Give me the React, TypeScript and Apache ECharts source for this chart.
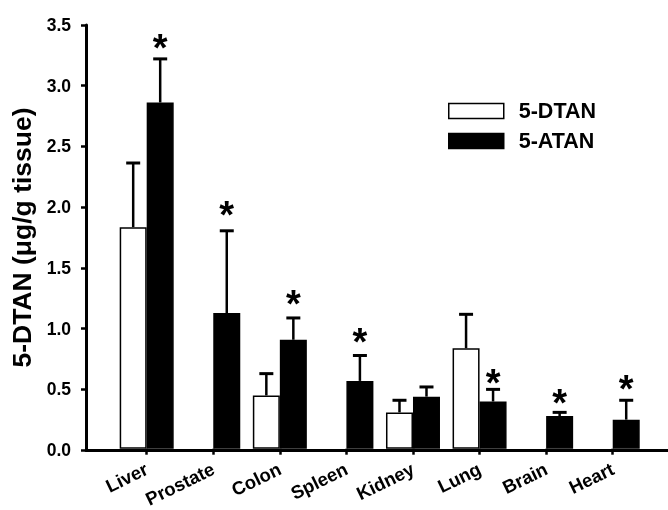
import React, { useEffect, useRef } from "react";
import * as echarts from "echarts";

const categories = ["Liver", "Prostate", "Colon", "Spleen", "Kidney", "Lung", "Brain", "Heart"];
const dtanMean: (number | null)[] = [1.83, null, 0.44, null, 0.3, 0.83, null, null];
const dtanErr: (number | null)[] = [0.53, null, 0.18, null, 0.1, 0.28, null, null];
const atanMean = [2.86, 1.12, 0.9, 0.56, 0.43, 0.39, 0.27, 0.24];
const atanErr = [0.36, 0.68, 0.18, 0.21, 0.08, 0.1, 0.03, 0.16];
const asteriskY: (number | null)[] = [3.38, 2.0, 1.26, 0.95, null, 0.61, 0.44, 0.56];
const yTicks = [0, 0.5, 1.0, 1.5, 2.0, 2.5, 3.0, 3.5];

const FONT = "Liberation Sans";
const BAR_W = 27;

export default function App() {
  const ref = useRef<HTMLDivElement>(null);
  useEffect(() => {
    document.body.style.margin = "0";
    const chart = echarts.init(ref.current!, null, { renderer: "svg" });

    const errData: number[][] = [];
    categories.forEach((_, i) => {
      if (dtanMean[i] != null) errData.push([i, dtanMean[i] as number, dtanErr[i] as number, -1]);
      errData.push([i, atanMean[i], atanErr[i], 1]);
    });
    const starData: number[][] = [];
    asteriskY.forEach((v, i) => {
      if (v != null) starData.push([i, v]);
    });

    const yMin = yTicks[0];
    const yMax = yTicks[yTicks.length - 1];

    chart.setOption({
      animation: false,
      textStyle: { fontFamily: FONT },
      grid: [
        { left: 86, top: 25, width: 582, height: 425 },
        { left: 113.4, top: 25, width: 532.6, height: 425 },
      ],
      legend: {
        orient: "vertical",
        left: 448,
        top: 100,
        padding: 0,
        itemWidth: 55,
        itemHeight: 15,
        itemGap: 8,
        textStyle: { fontSize: 21.5, fontWeight: "bold", color: "#000", fontFamily: FONT, padding: [0, 0, 0, 10] },
        data: [
          { name: "5-DTAN", icon: "rect", itemStyle: { color: "#fff", borderColor: "#000", borderWidth: 1.5 } },
          { name: "5-ATAN", icon: "rect", itemStyle: { color: "#000", borderColor: "#000", borderWidth: 1.5 } },
        ],
      },
      xAxis: [
        {
          gridIndex: 0,
          type: "value",
          min: 0,
          max: 1,
          axisLine: { show: true, lineStyle: { color: "#000", width: 3 } },
          axisTick: { show: false },
          axisLabel: { show: false },
          splitLine: { show: false },
        },
        {
          gridIndex: 1,
          type: "category",
          data: categories,
          boundaryGap: true,
          axisLine: { show: false },
          axisTick: { show: true, alignWithLabel: true, length: 6, lineStyle: { color: "#000", width: 2.5 } },
          axisLabel: {
            interval: 0,
            rotate: 26,
            margin: 19,
            color: "#000",
            fontSize: 18.5,
            fontWeight: "bold",
            fontFamily: FONT,
          },
          splitLine: { show: false },
        },
      ],
      yAxis: [
        {
          gridIndex: 0,
          type: "value",
          min: yMin,
          max: yMax,
          interval: 0.5,
          name: "5-DTAN (\u03bcg/g tissue)",
          nameLocation: "middle",
          nameGap: 50,
          nameTextStyle: { fontSize: 26.5, fontWeight: "bold", color: "#000", fontFamily: FONT },
          axisLine: { show: true, lineStyle: { color: "#000", width: 3 } },
          axisTick: { show: true, length: 5, lineStyle: { color: "#000", width: 2.5 } },
          axisLabel: {
            margin: 15,
            color: "#000",
            fontSize: 17.5,
            fontWeight: "bold",
            fontFamily: FONT,
            formatter: (v: number) => v.toFixed(1),
          },
          splitLine: { show: false },
        },
        {
          gridIndex: 1,
          type: "value",
          min: yMin,
          max: yMax,
          show: false,
          splitLine: { show: false },
        },
      ],
      series: [
        {
          name: "5-DTAN",
          type: "bar",
          xAxisIndex: 1,
          yAxisIndex: 1,
          data: dtanMean.map((v) => (v == null ? "-" : v)),
          barWidth: BAR_W,
          barGap: "0%",
          itemStyle: { color: "#fff", borderColor: "#000", borderWidth: 1.5 },
          z: 2,
        },
        {
          name: "5-ATAN",
          type: "bar",
          xAxisIndex: 1,
          yAxisIndex: 1,
          data: atanMean,
          barWidth: BAR_W,
          barGap: "0%",
          itemStyle: { color: "#000", borderColor: "#000", borderWidth: 1.5 },
          z: 2,
        },
        {
          type: "custom",
          xAxisIndex: 1,
          yAxisIndex: 1,
          data: errData,
          z: 3,
          silent: true,
          renderItem: (params: any, api: any) => {
            const i = api.value(0);
            const m = api.value(1);
            const e = api.value(2);
            const side = api.value(3);
            const base = api.coord([i, m]);
            const top = api.coord([i, m + e]);
            const x = base[0] + (side * BAR_W) / 2;
            return {
              type: "group",
              children: [
                { type: "line", shape: { x1: x, y1: base[1], x2: x, y2: top[1] }, style: { stroke: "#000", lineWidth: 2.5 } },
                { type: "line", shape: { x1: x - 7, y1: top[1], x2: x + 7, y2: top[1] }, style: { stroke: "#000", lineWidth: 3 } },
              ],
            };
          },
        },
        {
          type: "custom",
          xAxisIndex: 1,
          yAxisIndex: 1,
          data: starData,
          z: 4,
          silent: true,
          renderItem: (params: any, api: any) => {
            const p = api.coord([api.value(0), api.value(1)]);
            return {
              type: "text",
              style: {
                text: "*",
                x: p[0] + BAR_W / 2,
                y: p[1] + 8,
                align: "center",
                verticalAlign: "middle",
                fontSize: 38,
                fontWeight: "bold",
                fontFamily: FONT,
                fill: "#000",
              },
            };
          },
        },
      ],
    });
    return () => chart.dispose();
  }, []);
  return <div ref={ref} style={{ position: "fixed", left: 0, top: 0, width: 668, height: 510 }} />;
}
